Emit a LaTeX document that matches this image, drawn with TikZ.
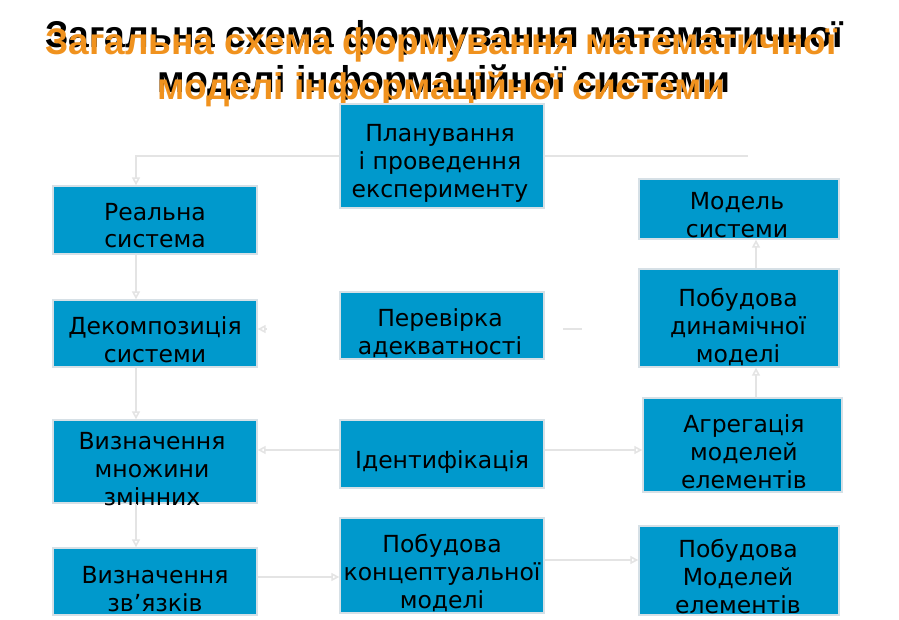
\documentclass[tikz,border=0pt]{standalone}
\usepackage{fontspec}
\setmainfont{DejaVu Sans}
\newfontfamily\titlefont{Liberation Sans}
\usetikzlibrary{arrows.meta}
\definecolor{boxblue}{RGB}{0,153,204}
\definecolor{boxedge}{RGB}{214,224,230}
\definecolor{connc}{RGB}{228,228,228}
\definecolor{titleor}{RGB}{240,146,30}
\tikzset{
  box/.style={draw=boxedge, line width=1.3pt, fill=boxblue, inner sep=0pt},
  lbl/.style={align=center, anchor=base, inner sep=0pt, font=\fontsize{23.5}{28}\selectfont},
  conn/.style={draw=connc, line width=1.6pt},
  arr/.style={conn, -{Triangle[open, length=8pt, width=8pt, fill=white]}},
  ttlb/.style={font=\titlefont\bfseries\fontsize{37.3}{46}\selectfont, align=center, anchor=base, inner sep=0pt},
  ttlo/.style={font=\titlefont\bfseries\fontsize{37}{46}\selectfont, align=center, anchor=base, inner sep=0pt}
}
\begin{document}
\begin{tikzpicture}[x=1pt,y=-1pt]
\useasboundingbox (0,0) rectangle (899,620);
% title
\node[ttlb, text=black] (tb1) at (444,48) {Загальна схема формування математичної};
\node[ttlb, text=black] (tb2) at (444,93) {моделі інформаційної системи};
\node[ttlo, text=titleor] (to1) at (441,55) {Загальна схема формування математичної};
\node[ttlo, text=titleor] (to2) at (441,100) {моделі інформаційної системи};
% boxes
\node[box, minimum width=204pt, minimum height=104pt] (plan) at (442,156) {};
\node[box, minimum width=204pt, minimum height=68pt] (real) at (155,220) {};
\node[box, minimum width=204pt, minimum height=67pt] (decomp) at (155,333.5) {};
\node[box, minimum width=204pt, minimum height=83pt] (mnozh) at (155,461.5) {};
\node[box, minimum width=204pt, minimum height=67pt] (zvyaz) at (155,581.5) {};
\node[box, minimum width=204pt, minimum height=67pt] (perev) at (442,325.5) {};
\node[box, minimum width=204pt, minimum height=68pt] (ident) at (442,454) {};
\node[box, minimum width=204pt, minimum height=95pt] (konc) at (442,565.5) {};
\node[box, minimum width=200pt, minimum height=60pt] (model) at (739,209) {};
\node[box, minimum width=200pt, minimum height=98pt] (dyn) at (739,318) {};
\node[box, minimum width=199pt, minimum height=94pt] (agreg) at (742.5,445) {};
\node[box, minimum width=200pt, minimum height=89pt] (pobmod) at (739,570.5) {};
% labels (anchor = baseline of last line)
\node[lbl] (tplan) at (440,198) {Планування\\ і проведення\\ експерименту};
\node[lbl] (treal) at (155,248) {Реальна\\ система};
\node[lbl] (tdecomp) at (155,362) {Декомпозиція\\ системи};
\node[lbl] (tmnozh) at (152,505) {Визначення\\ множини\\ змінних};
\node[lbl] (tzvyaz) at (155,611) {Визначення\\ зв’язків};
\node[lbl] (tperev) at (440,354) {Перевірка\\ адекватності};
\node[lbl] (tident) at (442,468) {Ідентифікація};
\node[lbl] (tkonc) at (442,608) {Побудова\\ концептуальної\\ моделі};
\node[lbl] (tmodel) at (737,238) {Модель\\ системи};
\node[lbl] (tdyn) at (738,362) {Побудова\\ динамічної\\ моделі};
\node[lbl] (tagreg) at (744,488) {Агрегація\\ моделей\\ елементів};
\node[lbl] (tpobmod) at (738,613) {Побудова\\ Моделей\\ елементів};
% connectors
\draw[arr] (plan.west) -| ([xshift=-19pt]real.north);
\coordinate (rend) at (748,156);
\draw[conn] (plan.east) -- (rend);
\draw[arr] ([xshift=-19pt]real.south) -- ([xshift=-19pt]decomp.north);
\draw[arr] ([xshift=-19pt]decomp.south) -- ([xshift=-19pt]mnozh.north);
\draw[arr] ([xshift=-19pt]mnozh.south) -- ([xshift=-19pt]zvyaz.north);
\coordinate (pstub) at (267,329);
\draw[arr] (pstub) -- (pstub -| decomp.east);
\coordinate (sa) at (563,329);
\coordinate (sb) at (582,329);
\draw[conn] (sa) -- (sb);
\draw[arr] ([yshift=4pt]ident.west) coordinate (q1) -- (q1 -| mnozh.east);
\draw[arr] ([yshift=4pt]ident.east) coordinate (q2) -- (q2 -| agreg.west);
\draw[arr] ([yshift=4.5pt]zvyaz.east) coordinate (q3) -- (q3 -| konc.west);
\draw[arr] ([yshift=5.5pt]konc.east) coordinate (q4) -- (q4 -| pobmod.west);
\draw[arr] ([xshift=13.5pt]agreg.north) coordinate (q5) -- (q5 |- dyn.south);
\draw[arr] ([xshift=17pt]dyn.north) coordinate (q6) -- (q6 |- model.south);
\end{tikzpicture}
\end{document}
